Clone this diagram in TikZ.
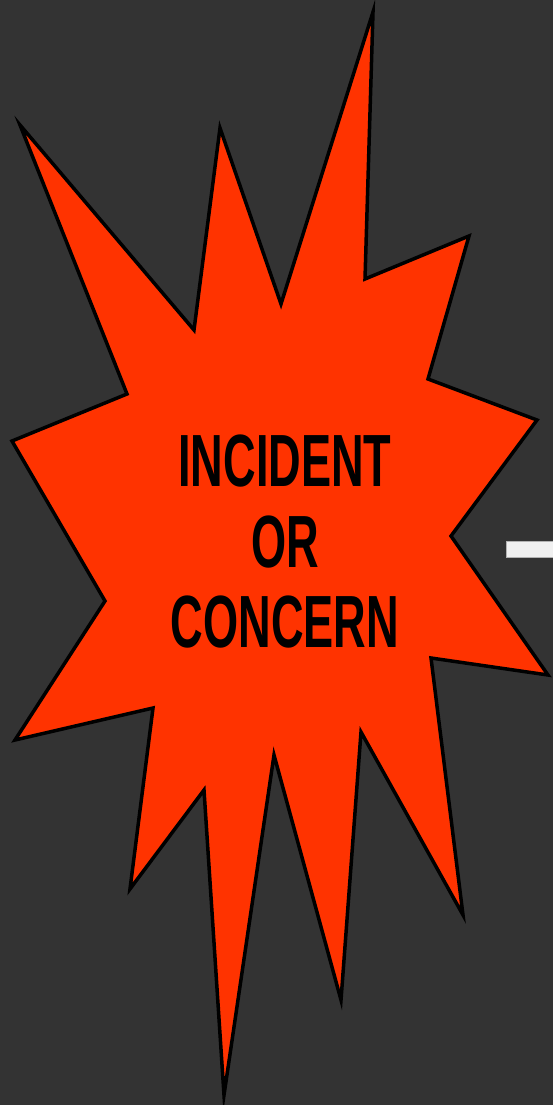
\documentclass[tikz,border=0pt]{standalone}
\usepackage{fontspec}
\setmainfont{Liberation Sans}
\usepackage{xcolor}
\usetikzlibrary{positioning}

\definecolor{slate}{HTML}{333333}
\definecolor{blast}{HTML}{FF3300}
\definecolor{stubgray}{HTML}{F0F0F0}

\begin{document}
\begin{tikzpicture}[
  x=1pt, y=-1pt,
  burst/.style={draw=black, line width=3.5pt, fill=blast, line join=miter},
  label/.style={inner sep=0pt, align=center, xscale=0.61, transform shape,
                font=\fontsize{74}{80.5}\selectfont\bfseries},
  stub/.style={fill=stubgray, draw=gray!60, line width=0.5pt, inner sep=0pt,
               minimum width=48pt, minimum height=16pt, anchor=west},
]

% Background
\fill[slate] (0,0) rectangle (553,1105);
\useasboundingbox (0,0) rectangle (553,1105);

% Starburst
\draw[burst] (373,12) -- (365,279) -- (469,236) -- (428,379) -- (537,420)
  -- (451,536) -- (548,675) -- (431,658) -- (463,915) -- (361,732)
  -- (341,1000) -- (274,755) -- (224,1095) -- (204,790) -- (130,889)
  -- (153,708) -- (15,740) -- (105,601) -- (12,441) -- (127,394)
  -- (20,125) -- (194,330) -- (220,128) -- (281,304) -- cycle;

% Text
\node[label] (incident) at (285,542) {INCIDENT\\OR\\CONCERN};

% Outgoing connector stub
\node[stub] (exit) at (506,549) {};

\end{tikzpicture}
\end{document}
